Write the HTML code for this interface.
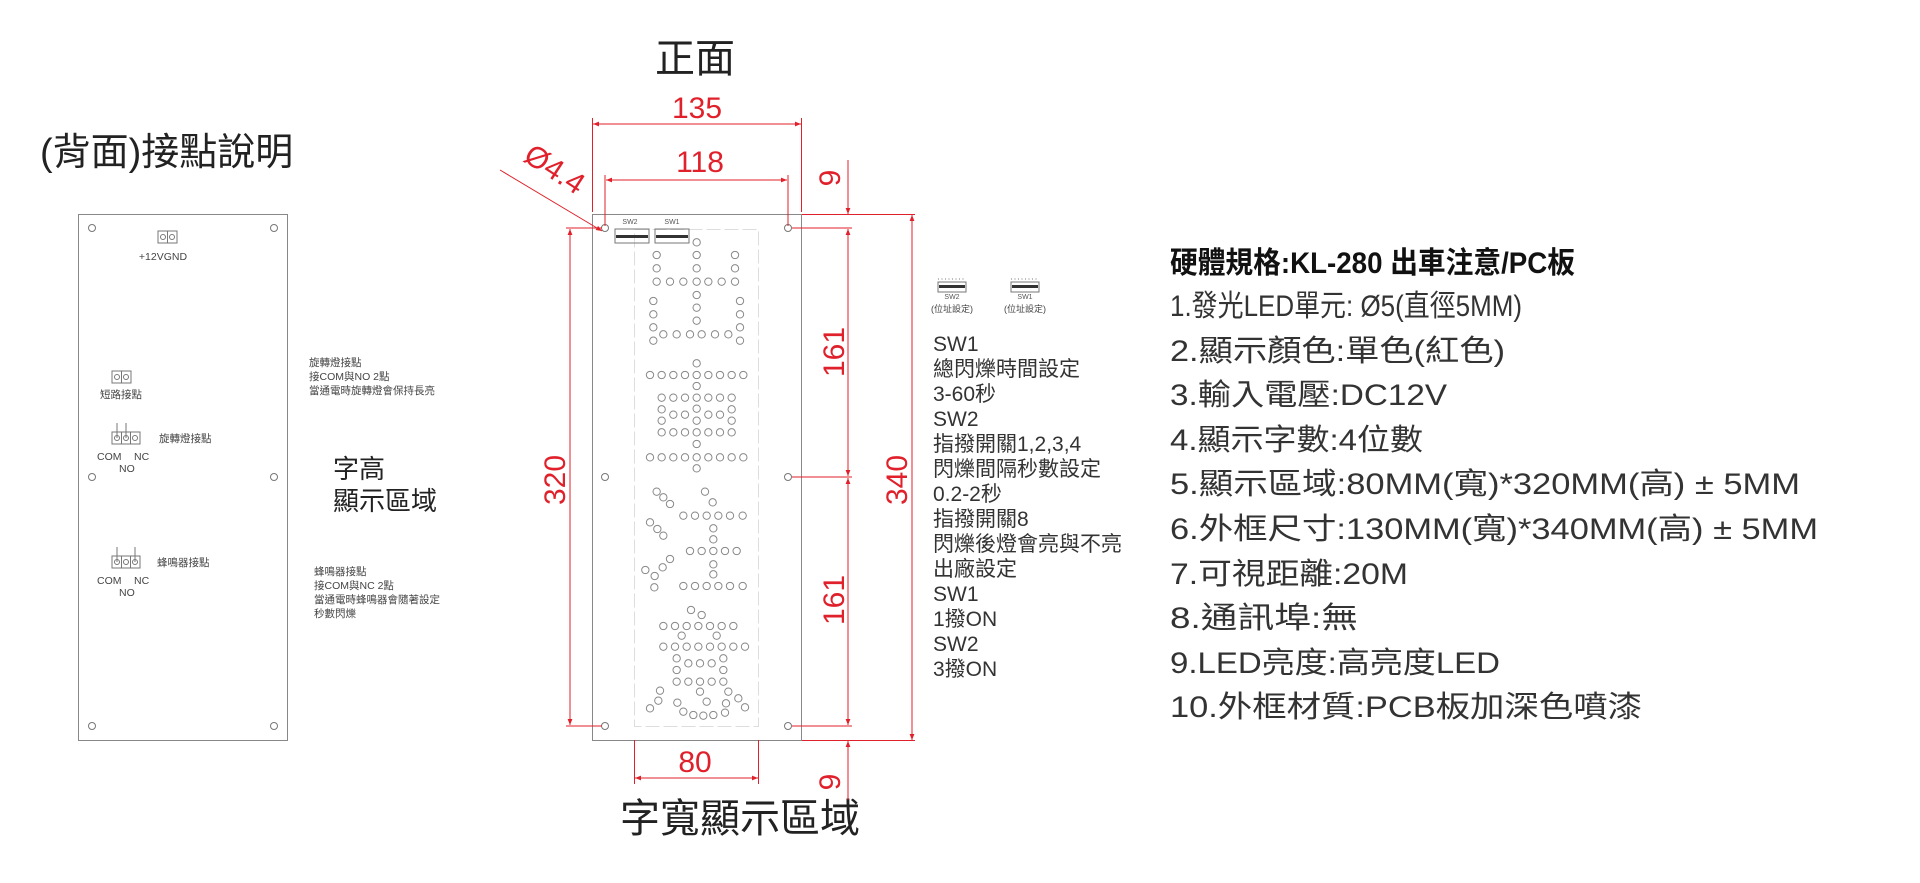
<!DOCTYPE html>
<html><head><meta charset="utf-8"><style>
html,body{margin:0;padding:0;background:#fff;}
svg{display:block;}
text{font-family:"Liberation Sans","Noto Sans CJK TC",sans-serif;}
.r{fill:#e0202a;}
.rl{stroke:#e0202a;stroke-width:1;fill:none;}
</style></head><body>
<svg width="1920" height="883" viewBox="0 0 1920 883" xmlns="http://www.w3.org/2000/svg">
<defs>
<marker id="ar" viewBox="0 0 10 10" refX="10" refY="5" markerWidth="12" markerHeight="6" orient="auto-start-reverse" markerUnits="userSpaceOnUse"><path d="M0,1 L10,5 L0,9 z" fill="#e0202a"/></marker>
</defs>

<text x="695" y="72" font-size="40" text-anchor="middle" fill="#222">正面</text>
<text x="40" y="165" font-size="38" fill="#222">(背面)接點說明</text>
<text x="740" y="832" font-size="40" text-anchor="middle" fill="#222">字寬顯示區域</text>

<rect x="78.5" y="214.5" width="209" height="526" fill="none" stroke="#888" stroke-width="1"/>
<g fill="none" stroke="#777" stroke-width="1">
<circle cx="92" cy="228" r="3.5"/><circle cx="274" cy="228" r="3.5"/>
<circle cx="92" cy="477" r="3.5"/><circle cx="274" cy="477" r="3.5"/>
<circle cx="92" cy="726" r="3.5"/><circle cx="274" cy="726" r="3.5"/>
<rect x="158" y="231" width="19" height="12"/><line x1="167.5" y1="231" x2="167.5" y2="243"/>
<circle cx="163" cy="237" r="2.5"/><circle cx="172" cy="237" r="2.5"/>
<rect x="112" y="371" width="19" height="12"/><line x1="121.5" y1="371" x2="121.5" y2="383"/>
<circle cx="117" cy="377" r="2.5"/><circle cx="126" cy="377" r="2.5"/>
<rect x="112" y="432" width="28" height="12"/><line x1="121.5" y1="432" x2="121.5" y2="444"/><line x1="130.5" y1="432" x2="130.5" y2="444"/>
<circle cx="117" cy="438" r="2.5"/><circle cx="126" cy="438" r="2.5"/><circle cx="135" cy="438" r="2.5"/>
<line x1="117" y1="423" x2="117" y2="438"/><line x1="126" y1="423" x2="126" y2="438"/>
<rect x="112" y="556" width="28" height="12"/><line x1="121.5" y1="556" x2="121.5" y2="568"/><line x1="130.5" y1="556" x2="130.5" y2="568"/>
<circle cx="117" cy="562" r="2.5"/><circle cx="126" cy="562" r="2.5"/><circle cx="135" cy="562" r="2.5"/>
<line x1="117" y1="547" x2="117" y2="562"/><line x1="135" y1="547" x2="135" y2="562"/>
</g>
<g font-size="10.5" fill="#444">
<text x="163" y="260" text-anchor="middle">+12VGND</text>
<text x="121" y="398" text-anchor="middle">短路接點</text>
<text x="159" y="442">旋轉燈接點</text>
<text x="97" y="460">COM</text><text x="134" y="460">NC</text><text x="119" y="472">NO</text>
<text x="157" y="566">蜂鳴器接點</text>
<text x="97" y="584">COM</text><text x="134" y="584">NC</text><text x="119" y="596">NO</text>
<text x="309" y="366">旋轉燈接點</text>
<text x="309" y="380">接COM與NO  2點</text>
<text x="309" y="394">當通電時旋轉燈會保持長亮</text>
<text x="314" y="575">蜂鳴器接點</text>
<text x="314" y="589">接COM與NC  2點</text>
<text x="314" y="603">當通電時蜂鳴器會隨著設定</text>
<text x="314" y="617">秒數閃爍</text>
</g>
<text x="333" y="478" font-size="26" fill="#222">字高</text>
<text x="333" y="510" font-size="26" fill="#222">顯示區域</text>

<rect x="592.5" y="214.5" width="209" height="526" fill="none" stroke="#888" stroke-width="1"/>
<rect x="634.5" y="229.5" width="124" height="497" fill="none" stroke="#ddd" stroke-width="1" stroke-dasharray="14,4"/>
<g fill="none" stroke="#777" stroke-width="1">
<circle cx="605" cy="228" r="3.5"/><circle cx="788" cy="228" r="3.5"/>
<circle cx="605" cy="477" r="3.5"/><circle cx="788" cy="477" r="3.5"/>
<circle cx="605" cy="726" r="3.5"/><circle cx="788" cy="726" r="3.5"/>
<rect x="615" y="229" width="34" height="14"/><rect x="655" y="229" width="34" height="14"/>
</g>
<g fill="#333">
<rect x="616" y="235" width="32" height="3"/><rect x="656" y="235" width="32" height="3"/>
</g>
<text x="630" y="224" font-size="7" fill="#555" text-anchor="middle">SW2</text>
<text x="672" y="224" font-size="7" fill="#555" text-anchor="middle">SW1</text>

<g transform="translate(620,220) scale(0.33333)" fill="none" stroke="#888" stroke-width="3">
<circle cx="230" cy="67" r="11"/>
<circle cx="110" cy="105" r="11"/><circle cx="230" cy="105" r="11"/><circle cx="345" cy="105" r="11"/>
<circle cx="110" cy="145" r="11"/><circle cx="230" cy="145" r="11"/><circle cx="345" cy="145" r="11"/>
<circle cx="110" cy="185" r="11"/><circle cx="150" cy="185" r="11"/><circle cx="190" cy="185" r="11"/><circle cx="230" cy="185" r="11"/><circle cx="265" cy="185" r="11"/><circle cx="305" cy="185" r="11"/><circle cx="345" cy="185" r="11"/>
<circle cx="230" cy="225" r="11"/>
<circle cx="100" cy="243" r="11"/><circle cx="360" cy="243" r="11"/>
<circle cx="230" cy="263" r="11"/>
<circle cx="100" cy="283" r="11"/><circle cx="360" cy="283" r="11"/>
<circle cx="230" cy="302" r="11"/>
<circle cx="100" cy="322" r="11"/><circle cx="360" cy="322" r="11"/>
<circle cx="130" cy="343" r="11"/><circle cx="170" cy="343" r="11"/><circle cx="210" cy="343" r="11"/><circle cx="245" cy="343" r="11"/><circle cx="285" cy="343" r="11"/><circle cx="325" cy="343" r="11"/>
<circle cx="100" cy="362" r="11"/><circle cx="360" cy="362" r="11"/>
<circle cx="230" cy="430" r="11"/>
<circle cx="90" cy="465" r="11"/><circle cx="125" cy="465" r="11"/><circle cx="160" cy="465" r="11"/><circle cx="195" cy="465" r="11"/><circle cx="230" cy="465" r="11"/><circle cx="265" cy="465" r="11"/><circle cx="300" cy="465" r="11"/><circle cx="335" cy="465" r="11"/><circle cx="370" cy="465" r="11"/>
<circle cx="230" cy="498" r="11"/>
<circle cx="125" cy="533" r="11"/><circle cx="160" cy="533" r="11"/><circle cx="195" cy="533" r="11"/><circle cx="230" cy="533" r="11"/><circle cx="265" cy="533" r="11"/><circle cx="300" cy="533" r="11"/><circle cx="335" cy="533" r="11"/>
<circle cx="125" cy="568" r="11"/><circle cx="230" cy="566" r="11"/><circle cx="335" cy="568" r="11"/>
<circle cx="160" cy="584" r="11"/><circle cx="195" cy="584" r="11"/><circle cx="265" cy="584" r="11"/><circle cx="300" cy="584" r="11"/>
<circle cx="125" cy="602" r="11"/><circle cx="230" cy="602" r="11"/><circle cx="335" cy="602" r="11"/>
<circle cx="125" cy="637" r="11"/><circle cx="160" cy="637" r="11"/><circle cx="195" cy="637" r="11"/><circle cx="230" cy="637" r="11"/><circle cx="265" cy="637" r="11"/><circle cx="300" cy="637" r="11"/><circle cx="335" cy="637" r="11"/>
<circle cx="230" cy="672" r="11"/>
<circle cx="90" cy="712" r="11"/><circle cx="125" cy="712" r="11"/><circle cx="160" cy="712" r="11"/><circle cx="195" cy="712" r="11"/><circle cx="230" cy="712" r="11"/><circle cx="265" cy="712" r="11"/><circle cx="300" cy="712" r="11"/><circle cx="335" cy="712" r="11"/><circle cx="370" cy="712" r="11"/>
<circle cx="230" cy="745" r="11"/>
</g>
<g transform="translate(620,470) scale(0.33333)" fill="none" stroke="#888" stroke-width="3">
<circle cx="110" cy="65" r="11"/><circle cx="130" cy="82" r="11"/><circle cx="150" cy="102" r="11"/>
<circle cx="255" cy="65" r="11"/><circle cx="278" cy="97" r="11"/>
<circle cx="190" cy="137" r="11"/><circle cx="225" cy="137" r="11"/><circle cx="260" cy="137" r="11"/><circle cx="295" cy="137" r="11"/><circle cx="330" cy="137" r="11"/><circle cx="368" cy="137" r="11"/>
<circle cx="90" cy="157" r="11"/><circle cx="112" cy="177" r="11"/><circle cx="130" cy="197" r="11"/>
<circle cx="280" cy="175" r="11"/><circle cx="280" cy="208" r="11"/>
<circle cx="210" cy="243" r="11"/><circle cx="245" cy="243" r="11"/><circle cx="280" cy="243" r="11"/><circle cx="315" cy="243" r="11"/><circle cx="350" cy="243" r="11"/>
<circle cx="150" cy="267" r="11"/><circle cx="128" cy="292" r="11"/><circle cx="104" cy="318" r="11"/><circle cx="76" cy="300" r="11"/><circle cx="103" cy="352" r="11"/>
<circle cx="280" cy="283" r="11"/><circle cx="280" cy="313" r="11"/>
<circle cx="190" cy="348" r="11"/><circle cx="225" cy="348" r="11"/><circle cx="260" cy="348" r="11"/><circle cx="295" cy="348" r="11"/><circle cx="330" cy="348" r="11"/><circle cx="368" cy="348" r="11"/>
<circle cx="213" cy="420" r="11"/><circle cx="245" cy="435" r="11"/>
<circle cx="130" cy="468" r="11"/><circle cx="165" cy="468" r="11"/><circle cx="200" cy="468" r="11"/><circle cx="235" cy="468" r="11"/><circle cx="270" cy="468" r="11"/><circle cx="305" cy="468" r="11"/><circle cx="340" cy="468" r="11"/>
<circle cx="185" cy="497" r="11"/><circle cx="290" cy="497" r="11"/>
<circle cx="130" cy="530" r="11"/><circle cx="165" cy="530" r="11"/><circle cx="200" cy="530" r="11"/><circle cx="235" cy="530" r="11"/><circle cx="270" cy="530" r="11"/><circle cx="305" cy="530" r="11"/><circle cx="340" cy="530" r="11"/><circle cx="375" cy="530" r="11"/>
<circle cx="170" cy="565" r="11"/><circle cx="310" cy="565" r="11"/>
<circle cx="205" cy="580" r="11"/><circle cx="240" cy="580" r="11"/><circle cx="275" cy="580" r="11"/>
<circle cx="170" cy="600" r="11"/><circle cx="310" cy="600" r="11"/>
<circle cx="170" cy="635" r="11"/><circle cx="205" cy="635" r="11"/><circle cx="240" cy="635" r="11"/><circle cx="275" cy="635" r="11"/><circle cx="310" cy="635" r="11"/>
<circle cx="120" cy="662" r="11"/><circle cx="240" cy="665" r="11"/><circle cx="325" cy="665" r="11"/>
<circle cx="115" cy="692" r="11"/><circle cx="90" cy="715" r="11"/><circle cx="172" cy="698" r="11"/><circle cx="260" cy="695" r="11"/><circle cx="355" cy="685" r="11"/><circle cx="375" cy="712" r="11"/><circle cx="318" cy="700" r="11"/>
<circle cx="190" cy="725" r="11"/><circle cx="220" cy="735" r="11"/><circle cx="250" cy="737" r="11"/><circle cx="280" cy="735" r="11"/><circle cx="315" cy="728" r="11"/>
</g>

<g class="rl">
<line x1="592.5" y1="118" x2="592.5" y2="212"/><line x1="801.5" y1="118" x2="801.5" y2="212"/>
<line x1="593" y1="124" x2="801" y2="124" marker-start="url(#ar)" marker-end="url(#ar)"/>
<line x1="605" y1="175" x2="605" y2="226"/><line x1="788" y1="175" x2="788" y2="226"/>
<line x1="606" y1="180" x2="787" y2="180" marker-start="url(#ar)" marker-end="url(#ar)"/>
<line x1="500" y1="170" x2="602" y2="231" marker-end="url(#ar)"/>
<line x1="802" y1="214.5" x2="915" y2="214.5"/>
<line x1="792" y1="228" x2="852" y2="228"/>
<line x1="792" y1="477" x2="852" y2="477"/>
<line x1="792" y1="726" x2="852" y2="726"/>
<line x1="802" y1="740.5" x2="915" y2="740.5"/>
<line x1="848" y1="160" x2="848" y2="214" marker-end="url(#ar)"/>
<line x1="848" y1="229" x2="848" y2="476" marker-start="url(#ar)" marker-end="url(#ar)"/>
<line x1="848" y1="478" x2="848" y2="725" marker-start="url(#ar)" marker-end="url(#ar)"/>
<line x1="848" y1="741" x2="848" y2="800" marker-start="url(#ar)"/>
<line x1="912" y1="215" x2="912" y2="740" marker-start="url(#ar)" marker-end="url(#ar)"/>
<line x1="566" y1="228" x2="602" y2="228"/>
<line x1="566" y1="726" x2="602" y2="726"/>
<line x1="570" y1="229" x2="570" y2="725" marker-start="url(#ar)" marker-end="url(#ar)"/>
<line x1="634.5" y1="740" x2="634.5" y2="784"/><line x1="758.5" y1="740" x2="758.5" y2="784"/>
<line x1="635" y1="778" x2="758" y2="778" marker-start="url(#ar)" marker-end="url(#ar)"/>
</g>
<g class="r" font-size="30">
<text x="697" y="118" text-anchor="middle">135</text>
<text x="700" y="172" text-anchor="middle">118</text>
<text x="695" y="772" text-anchor="middle">80</text>
<text transform="translate(522,160) rotate(33)" font-size="30">Ø4.4</text>
<text transform="translate(840,178) rotate(-90)" text-anchor="middle">9</text>
<text transform="translate(844,352) rotate(-90)" text-anchor="middle">161</text>
<text transform="translate(844,600) rotate(-90)" text-anchor="middle">161</text>
<text transform="translate(840,782) rotate(-90)" text-anchor="middle">9</text>
<text transform="translate(907,480) rotate(-90)" text-anchor="middle">340</text>
<text transform="translate(565,480) rotate(-90)" text-anchor="middle">320</text>
</g>

<g fill="none" stroke="#777" stroke-width="1">
<rect x="938" y="282" width="28" height="10"/><rect x="1011" y="282" width="28" height="10"/>
<line x1="938" y1="279" x2="966" y2="279" stroke-dasharray="1,2.5"/>
<line x1="1011" y1="279" x2="1039" y2="279" stroke-dasharray="1,2.5"/>
</g>
<rect x="939" y="285" width="26" height="3" fill="#333"/><rect x="1012" y="285" width="26" height="3" fill="#333"/>
<g font-size="7" fill="#555" text-anchor="middle"><text x="952" y="299">SW2</text><text x="1025" y="299">SW1</text></g>
<g font-size="9" fill="#444" text-anchor="middle"><text x="952" y="312">(位址設定)</text><text x="1025" y="312">(位址設定)</text></g>

<g font-size="21" fill="#333">
<text x="933" y="351">SW1</text>
<text x="933" y="376">總閃爍時間設定</text>
<text x="933" y="401">3-60秒</text>
<text x="933" y="426">SW2</text>
<text x="933" y="451">指撥開關1,2,3,4</text>
<text x="933" y="476">閃爍間隔秒數設定</text>
<text x="933" y="501">0.2-2秒</text>
<text x="933" y="526">指撥開關8</text>
<text x="933" y="551">閃爍後燈會亮與不亮</text>
<text x="933" y="576">出廠設定</text>
<text x="933" y="601">SW1</text>
<text x="933" y="626">1撥ON</text>
<text x="933" y="651">SW2</text>
<text x="933" y="676">3撥ON</text>
</g>

<text x="1170" y="273" font-size="30" font-weight="bold" fill="#111" textLength="405" lengthAdjust="spacingAndGlyphs">硬體規格:KL-280  出車注意/PC板</text>
<g font-size="30" fill="#333">
<text x="1170" y="316" textLength="352" lengthAdjust="spacingAndGlyphs">1.發光LED單元:  Ø5(直徑5MM)</text>
<text x="1170" y="361" textLength="335" lengthAdjust="spacingAndGlyphs">2.顯示顏色:單色(紅色)</text>
<text x="1170" y="405" textLength="277" lengthAdjust="spacingAndGlyphs">3.輸入電壓:DC12V</text>
<text x="1170" y="450" textLength="253" lengthAdjust="spacingAndGlyphs">4.顯示字數:4位數</text>
<text x="1170" y="494" textLength="630" lengthAdjust="spacingAndGlyphs">5.顯示區域:80MM(寬)*320MM(高) ± 5MM</text>
<text x="1170" y="539" textLength="648" lengthAdjust="spacingAndGlyphs">6.外框尺寸:130MM(寬)*340MM(高) ± 5MM</text>
<text x="1170" y="584" textLength="238" lengthAdjust="spacingAndGlyphs">7.可視距離:20M</text>
<text x="1170" y="628" textLength="188" lengthAdjust="spacingAndGlyphs">8.通訊埠:無</text>
<text x="1170" y="673" textLength="330" lengthAdjust="spacingAndGlyphs">9.LED亮度:高亮度LED</text>
<text x="1170" y="717" textLength="472" lengthAdjust="spacingAndGlyphs">10.外框材質:PCB板加深色噴漆</text>
</g>
</svg>
</body></html>
